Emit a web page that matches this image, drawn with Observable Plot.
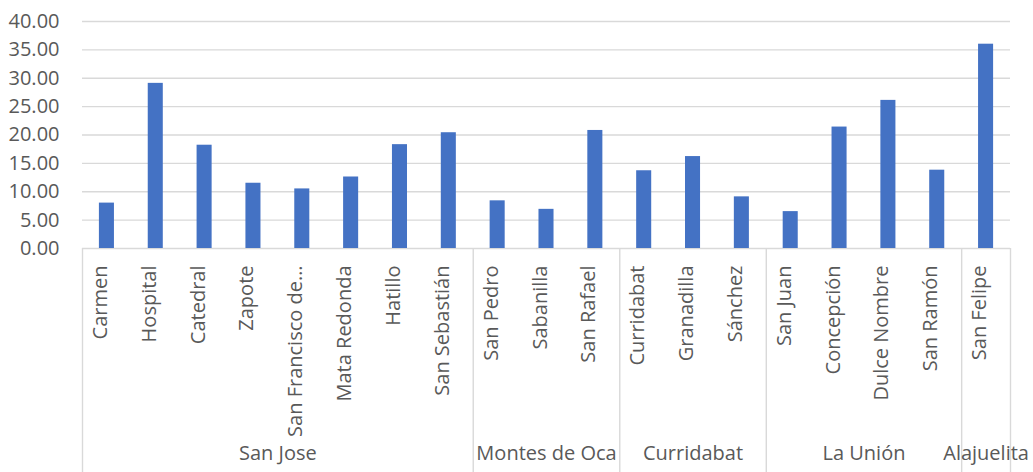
<!DOCTYPE html>
<html><head><meta charset="utf-8">
<script src="https://cdn.jsdelivr.net/npm/d3@7"></script>
<script src="https://cdn.jsdelivr.net/npm/@observablehq/plot@0.6"></script>
<style>body{margin:0;background:#fff}</style>
</head><body><div id="chart"></div>
<script>
const districts = ["Carmen","Hospital","Catedral","Zapote","San Francisco de…","Mata Redonda","Hatillo","San Sebastián","San Pedro","Sabanilla","San Rafael","Curridabat","Granadilla","Sánchez","San Juan","Concepción","Dulce Nombre","San Ramón","San Felipe"];
const values = [8.0,29.1,18.2,11.5,10.5,12.6,18.3,20.4,8.4,6.9,20.8,13.7,16.2,9.1,6.5,21.4,26.1,13.8,36.0];
const groups = ["San Jose","Montes de Oca","Curridabat","La Unión","Alajuelita"];
const groupSizes = [8,3,3,4,1];
const yTicks = [0,5,10,15,20,25,30,35,40];

const bars = districts.map((d,i)=>({name:d, value:values[i], i}));
let start = 0;
const groupData = groups.map((g,k)=>{const o={name:g,start,end:start+groupSizes[k]}; start+=groupSizes[k]; return o;});
const boundaries = [0, ...groupData.map(g=>g.end)];

const W = 1033, H = 472, mT = 21, mB = 224;
const chart = Plot.plot({
  width: W, height: H,
  marginLeft: 82, marginRight: 23, marginTop: mT, marginBottom: mB,
  style: {fontFamily: "'Open Sans', sans-serif", fontSize: "20px", color: "#595959", background: "#fff", overflow: "visible"},
  x: {domain: [0, districts.length], axis: null},
  y: {domain: [0, 40], ticks: yTicks, tickFormat: d => d.toFixed(2), tickSize: 0, tickPadding: 23, label: null},
  marks: [
    Plot.ruleY(yTicks, {stroke: "#d9d9d9", strokeWidth: 1.4}),
    Plot.rectY(bars, {x1: d => d.i + 0.346, x2: d => d.i + 0.654, y: "value", fill: "#4472C4"}),
    Plot.ruleX(boundaries, {stroke: "#d9d9d9", strokeWidth: 1.4, insetTop: H - mT - mB, insetBottom: -mB}),
    Plot.text(bars, {x: d => d.i + 0.5, text: "name", frameAnchor: "bottom", dy: 17, rotate: -90, textAnchor: "end", fill: "#595959", fontSize: 20}),
    Plot.text(groupData, {x: d => (d.start + d.end) / 2, text: "name", frameAnchor: "bottom", dy: 211, fill: "#595959", fontSize: 20})
  ]
});
document.getElementById("chart").appendChild(chart);
</script>
</body></html>
